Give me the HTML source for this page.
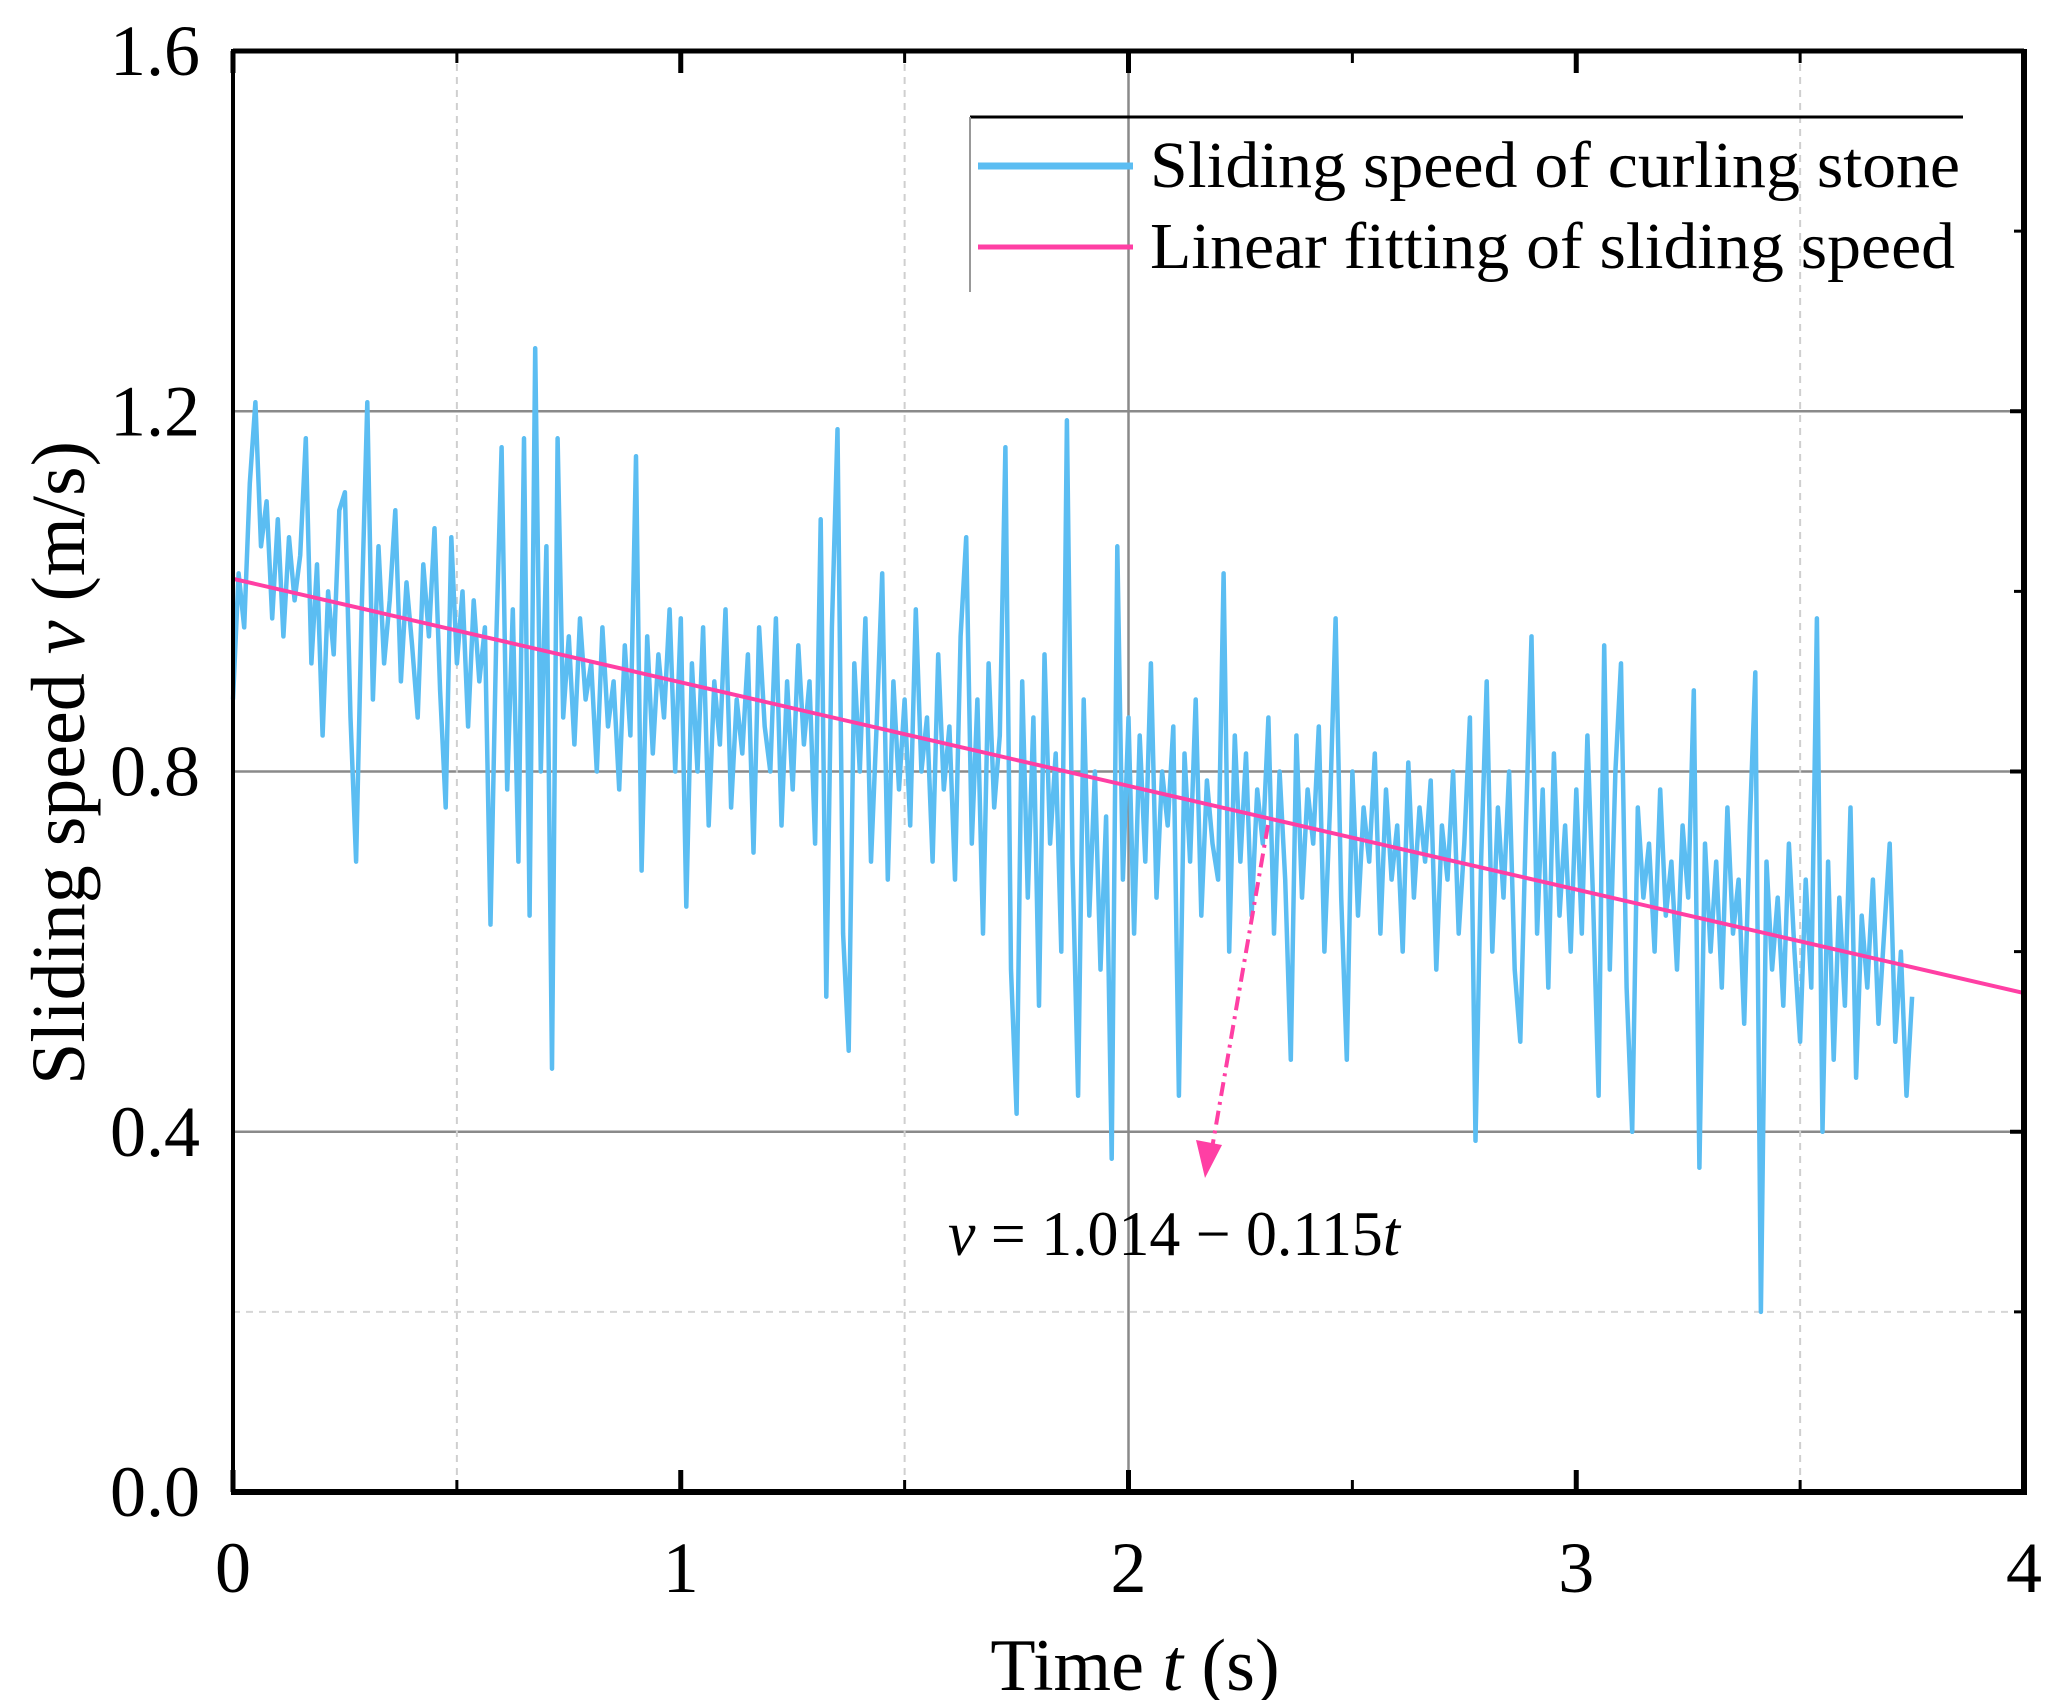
<!DOCTYPE html>
<html><head><meta charset="utf-8"><style>
html,body{margin:0;padding:0;background:#fff;}
svg{display:block;}
text{font-family:"Liberation Serif",serif;fill:#000;}
</style></head>
<body>
<svg id="chart" width="2060" height="1700" viewBox="0 0 2060 1700" xmlns="http://www.w3.org/2000/svg">
<g id="grid"></g>
<g id="series"></g>
<g id="axes"></g>
<g id="legend">
  <line x1="970" y1="117" x2="1963" y2="117" stroke="#000" stroke-width="3"/>
  <line x1="970" y1="117" x2="970" y2="292" stroke="#999" stroke-width="2"/>
  <line x1="978" y1="166" x2="1133" y2="166" stroke="#5bbdf2" stroke-width="7"/>
  <text x="1150" y="187" font-size="66" textLength="810" lengthAdjust="spacingAndGlyphs">Sliding speed of curling stone</text>
  <line x1="978" y1="247" x2="1133" y2="247" stroke="#ff3fa4" stroke-width="5"/>
  <text x="1150" y="268" font-size="66" textLength="805" lengthAdjust="spacingAndGlyphs">Linear fitting of sliding speed</text>
</g>
<g id="annot">
  <line x1="1268" y1="825" x2="1210" y2="1160" stroke="#ff3fa4" stroke-width="4" stroke-dasharray="14,6,3,6"/>
  <polygon points="1196,1140 1222,1145 1205,1178" fill="#ff3fa4"/>
  <text x="948" y="1255" font-size="63" textLength="452" lengthAdjust="spacingAndGlyphs" font-family="Liberation Sans, sans-serif"><tspan font-style="italic" font-family="Liberation Serif, serif">v</tspan> = 1.014 − 0.115<tspan font-style="italic" font-family="Liberation Serif, serif">t</tspan></text>
</g>
<text x="1135" y="1690" font-size="74" text-anchor="middle">Time <tspan font-style="italic">t</tspan> (s)</text>
<text transform="translate(84,763) rotate(-90)" font-size="76" text-anchor="middle">Sliding speed <tspan font-style="italic">v</tspan> (m/s)</text>
</svg>
<script>
const speedValues = [
0.88,1.02,0.96,1.12,1.21,1.05,1.10,0.97,1.08,0.95,1.06,0.99,1.04,1.17,0.92,1.03,0.84,1.00,0.93,1.09,
1.11,0.86,0.70,0.98,1.21,0.88,1.05,0.92,0.99,1.09,0.90,1.01,0.94,0.86,1.03,0.95,1.07,0.89,0.76,1.06,
0.92,1.00,0.85,0.99,0.90,0.96,0.63,0.94,1.16,0.78,0.98,0.70,1.17,0.64,1.27,0.80,1.05,0.47,1.17,0.86,
0.95,0.83,0.97,0.88,0.92,0.80,0.96,0.85,0.90,0.78,0.94,0.84,1.15,0.69,0.95,0.82,0.93,0.86,0.98,0.80,
0.97,0.65,0.92,0.80,0.96,0.74,0.90,0.83,0.98,0.76,0.88,0.82,0.93,0.71,0.96,0.85,0.80,0.97,0.74,0.90,
0.78,0.94,0.83,0.90,0.72,1.08,0.55,0.96,1.18,0.62,0.49,0.92,0.80,0.97,0.70,0.85,1.02,0.68,0.90,0.78,
0.88,0.74,0.98,0.80,0.86,0.70,0.93,0.78,0.85,0.68,0.95,1.06,0.72,0.88,0.62,0.92,0.76,0.84,1.16,0.58,
0.42,0.90,0.66,0.86,0.54,0.93,0.72,0.82,0.60,1.19,0.70,0.44,0.88,0.64,0.80,0.58,0.75,0.37,1.05,0.68,
0.86,0.62,0.84,0.70,0.92,0.66,0.80,0.74,0.85,0.44,0.82,0.70,0.88,0.64,0.79,0.72,0.68,1.02,0.60,0.84,
0.70,0.82,0.64,0.78,0.72,0.86,0.62,0.80,0.68,0.48,0.84,0.66,0.78,0.72,0.85,0.60,0.76,0.97,0.66,0.48,
0.80,0.64,0.76,0.70,0.82,0.62,0.78,0.68,0.74,0.60,0.81,0.66,0.76,0.70,0.79,0.58,0.74,0.68,0.80,0.62,
0.72,0.86,0.39,0.70,0.90,0.60,0.76,0.66,0.80,0.58,0.50,0.74,0.95,0.62,0.78,0.56,0.82,0.64,0.74,0.60,
0.78,0.62,0.84,0.66,0.44,0.94,0.58,0.80,0.92,0.56,0.40,0.76,0.66,0.72,0.60,0.78,0.64,0.70,0.58,0.74,
0.66,0.89,0.36,0.72,0.60,0.70,0.56,0.76,0.62,0.68,0.52,0.74,0.91,0.20,0.70,0.58,0.66,0.54,0.72,0.60,
0.50,0.68,0.56,0.97,0.40,0.70,0.48,0.66,0.54,0.76,0.46,0.64,0.56,0.68,0.52,0.62,0.72,0.50,0.60,0.44,0.55];
const tStart = 0;
const tEnd = 3.75;
const fitIntercept = 1.014;
const fitSlope = -0.115;
const xTickValues = [0,1,2,3,4];
const xTickLabels = ["0","1","2","3","4"];
const yTickValues = [0,0.4,0.8,1.2,1.6];
const yTickLabels = ["0.0","0.4","0.8","1.2","1.6"];

const NS="http://www.w3.org/2000/svg";
const L=233,R=2024,T=51,B=1492;
const xMin=0,xMax=4,yMin=0,yMax=1.6;
function xs(v){return L+(v-xMin)/(xMax-xMin)*(R-L);}
function ys(v){return B-(v-yMin)/(yMax-yMin)*(B-T);}
function mk(tag,attrs,parent){const e=document.createElementNS(NS,tag);for(const k in attrs)e.setAttribute(k,attrs[k]);parent.appendChild(e);return e;}

const grid=document.getElementById('grid');
[0.4,0.8,1.2].forEach(v=>{const e=mk('line',{x1:L,x2:R,y1:ys(v),y2:ys(v),stroke:'#8a8a8a','stroke-width':2.5},grid);

});
[2].forEach(v=>{const e=mk('line',{x1:xs(v),x2:xs(v),y1:T,y2:B,stroke:'#8a8a8a','stroke-width':2.5},grid);

});
[0.5,1.5,3.5].forEach(v=>{const e=mk('line',{x1:xs(v),x2:xs(v),y1:T,y2:B,stroke:'#cfcfcf','stroke-width':2,'stroke-dasharray':'7,6'},grid);

});
[0.2].forEach(v=>{const e=mk('line',{x1:L,x2:R,y1:ys(v),y2:ys(v),stroke:'#d6d6d6','stroke-width':2,'stroke-dasharray':'7,6'},grid);

});

const series=document.getElementById('series');
const n=speedValues.length;
let d='';
speedValues.forEach((v,i)=>{const t=tStart+(tEnd-tStart)*i/(n-1);d+=(i?'L':'M')+xs(t).toFixed(1)+' '+ys(v).toFixed(1);});
const sp=mk('path',{d:d,fill:'none',stroke:'#5bbdf2','stroke-width':4.5,'stroke-linejoin':'round'},series);


const fit=mk('line',{x1:xs(0),y1:ys(fitIntercept),x2:xs(4),y2:ys(fitIntercept+fitSlope*4),stroke:'#ff3fa4','stroke-width':4},series);



const axes=document.getElementById('axes');
const frame=mk('rect',{x:L,y:T,width:R-L,height:B-T,fill:'none',stroke:'#000','stroke-width':4},axes);


mk('line',{x1:L-2,x2:R+3,y1:B,y2:B,stroke:'#000','stroke-width':6},axes);
mk('line',{x1:R,x2:R,y1:T-2,y2:B+3,stroke:'#000','stroke-width':6},axes);
mk('line',{x1:L,x2:R,y1:T,y2:T,stroke:'#000','stroke-width':5},axes);
xTickValues.forEach((v,i)=>{
  const x=xs(v);
  mk('line',{x1:x,x2:x,y1:B,y2:B-22,stroke:'#000','stroke-width':5},axes);
  mk('line',{x1:x,x2:x,y1:T,y2:T+22,stroke:'#000','stroke-width':5},axes);
  const tx=mk('text',{x:x,y:B+100,'font-size':72,'text-anchor':'middle'},axes);
  tx.textContent=xTickLabels[i];
  
  
});
[0.5,1.5,2.5,3.5].forEach(v=>{mk('line',{x1:xs(v),x2:xs(v),y1:B,y2:B-12,stroke:'#000','stroke-width':3},axes);mk('line',{x1:xs(v),x2:xs(v),y1:T,y2:T+12,stroke:'#000','stroke-width':3},axes);});
yTickValues.forEach((v,i)=>{
  const y=ys(v);
  mk('line',{x1:R,x2:R-14,y1:y,y2:y,stroke:'#000','stroke-width':4},axes);
  const tx=mk('text',{x:200,y:y+24,'font-size':72,'text-anchor':'end'},axes);
  tx.textContent=yTickLabels[i];
  
  
});
[0.2,0.6,1.0,1.4].forEach(v=>{mk('line',{x1:R,x2:R-10,y1:ys(v),y2:ys(v),stroke:'#000','stroke-width':3},axes);});
</script>
</body></html>
